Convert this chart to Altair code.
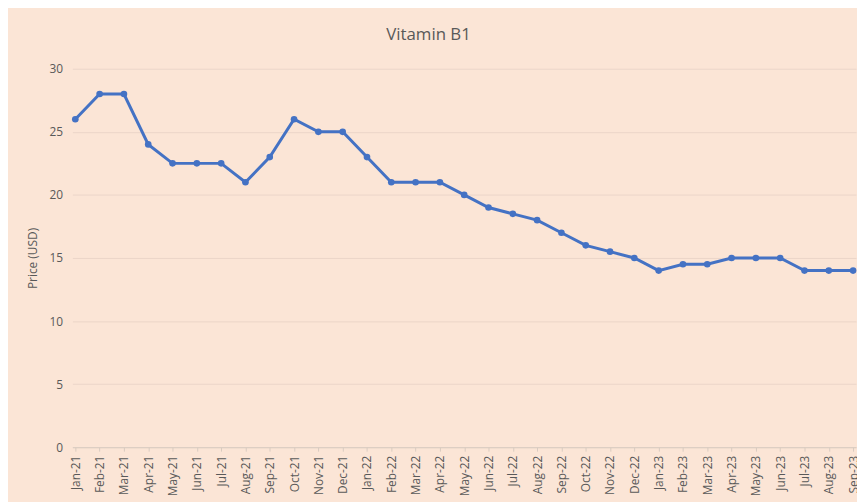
import altair as alt
import pandas as pd

months = ["Jan-21", "Feb-21", "Mar-21", "Apr-21", "May-21", "Jun-21", "Jul-21", "Aug-21",
          "Sep-21", "Oct-21", "Nov-21", "Dec-21", "Jan-22", "Feb-22", "Mar-22", "Apr-22",
          "May-22", "Jun-22", "Jul-22", "Aug-22", "Sep-22", "Oct-22", "Nov-22", "Dec-22",
          "Jan-23", "Feb-23", "Mar-23", "Apr-23", "May-23", "Jun-23", "Jul-23", "Aug-23",
          "Sep-23"]
prices = [26, 28, 28, 24, 22.5, 22.5, 22.5, 21,
          23, 26, 25, 25, 23, 21, 21, 21,
          20, 19, 18.5, 18, 17, 16, 15.5, 15,
          14, 14.5, 14.5, 15, 15, 15, 14, 14,
          14]

df = pd.DataFrame({"Month": months, "Price": prices})

FONT = "Open Sans"
BG = "#FBE5D6"
LINE = "#4472C4"

chart = alt.Chart(df).mark_line(
    color=LINE, strokeWidth=3,
    point=alt.OverlayMarkDef(color=LINE, filled=True, size=45, opacity=1),
).encode(
    x=alt.X("Month:N", sort=months,
            scale=alt.Scale(type="point", padding=0.12),
            axis=alt.Axis(title=None, labelAngle=270, labelFontSize=12,
                          labelColor="#595959", labelFont=FONT,
                          domainColor="#D9CBC0", tickColor="#D9CBC0",
                          tickSize=4, labelPadding=4, grid=False)),
    y=alt.Y("Price:Q", scale=alt.Scale(domain=[0, 30], nice=False),
            axis=alt.Axis(title="Price (USD)", values=[0, 5, 10, 15, 20, 25, 30],
                          labelFontSize=12, labelColor="#595959", labelFont=FONT,
                          titleFont=FONT, titleFontSize=12, titleColor="#595959",
                          titleFontWeight="normal", titlePadding=10,
                          domain=False, ticks=False, labelPadding=10,
                          gridColor="#EBD6C8", gridWidth=1)),
).properties(
    width=791, height=382,
    background=BG,
    padding={"left": 65, "top": 59, "right": 1, "bottom": 53},
    autosize=alt.AutoSizeParams(type="none"),
    title=alt.TitleParams("Vitamin B1", font=FONT, fontSize=17, fontWeight="normal",
                          color="#595959", anchor="middle", offset=19, dx=-36),
).configure_view(stroke=None)

chart.save("out.html", embed_options={"renderer": "svg", "actions": False})
